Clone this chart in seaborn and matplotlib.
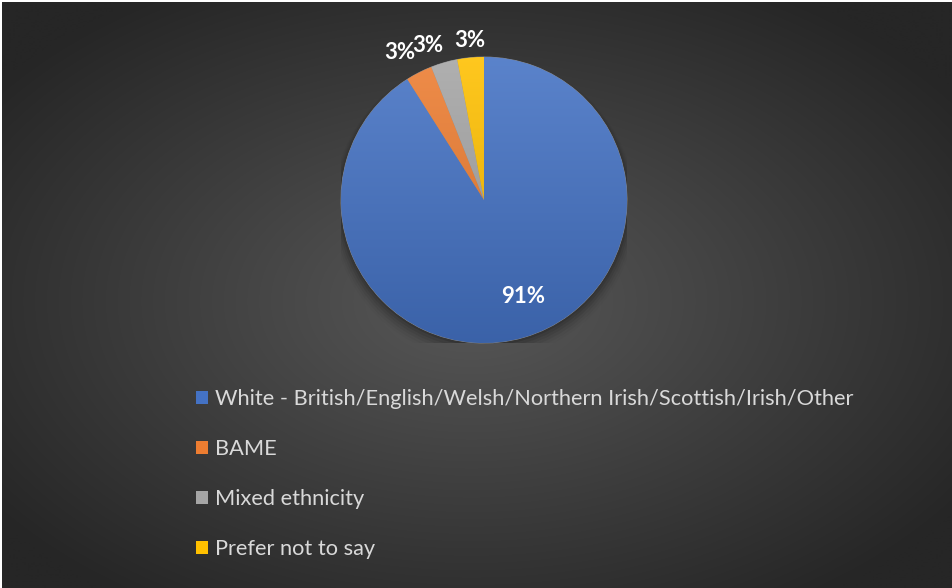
import numpy as np
import matplotlib
matplotlib.use("Agg")
import matplotlib.pyplot as plt
import matplotlib.colors as mcolors
import seaborn as sns

categories = [
    "White - British/English/Welsh/Northern Irish/Scottish/Irish/Other",
    "BAME",
    "Mixed ethnicity",
    "Prefer not to say",
]
values = [91, 3, 3, 3]
colors = ["#4472C4", "#ED7D31", "#A5A5A5", "#FFC000"]

sns.set_theme(style="dark")
plt.rcParams["font.family"] = ["Lato", "DejaVu Sans"]

W, H = 953, 588
fig = plt.figure(figsize=(W / 100, H / 100), dpi=100)
fig.patch.set_facecolor("white")

# background radial gradient
bg = fig.add_axes([2 / W, 0, 1 - 2 / W, 1 - 2 / H])
bg.set_axis_off()
yy, xx = np.mgrid[0:H, 0:W]
cx, cy = 470, 300
d = np.sqrt(((xx - cx) / (W * 0.62)) ** 2 + ((yy - cy) / (H * 0.62)) ** 2)
d = np.clip(d, 0, 1)
c0 = np.array(mcolors.to_rgb("#585858"))
c1 = np.array(mcolors.to_rgb("#262626"))
img = c0[None, None, :] * (1 - d[..., None]) + c1[None, None, :] * d[..., None]
bg.imshow(img, aspect="auto", extent=[0, 1, 0, 1], origin="upper")
bg.set_xlim(0, 1)
bg.set_ylim(0, 1)

# pie axes
pcx, pcy, R = 484, 200, 143
ax = fig.add_axes([(pcx - R) / W, (H - pcy - R) / H, 2 * R / W, 2 * R / H])
ax.set_facecolor("none")

# soft shadow
for i, a in enumerate(np.linspace(0.10, 0.02, 6)):
    sh = plt.Circle((0, -0.02 - i * 0.008), 1.0 + i * 0.012, color="black",
                    alpha=a, zorder=0, lw=0)
    ax.add_patch(sh)

wedges, texts, autotexts = ax.pie(
    values, colors=colors, startangle=90, counterclock=False,
    autopct=lambda p: f"{p:.0f}%", pctdistance=1.15,
    wedgeprops=dict(linewidth=0.6, edgecolor="#8a8a8a"),
    textprops=dict(color="white", fontsize=16, fontweight="bold"),
)

# vertical gradient shading on each wedge
grad = np.linspace(0, 1, 256)[:, None]
for w, col in zip(wedges, colors):
    base = np.array(mcolors.to_rgb(col))
    top = base + (1 - base) * 0.12
    bot = base * 0.86
    g = top[None, None, :] * (1 - grad[..., None]) + bot[None, None, :] * grad[..., None]
    g = np.repeat(g, 2, axis=1)
    im = ax.imshow(g, extent=[-1, 1, -1, 1], origin="upper", aspect="auto", zorder=1.1)
    im.set_clip_path(w)
    w.set_zorder(1)
ax.set_xlim(-1, 1)
ax.set_ylim(-1, 1)
ax.set_aspect("equal")

# place labels
offsets = [6.0, 2.6, 3.7, -0.4]
dists = [0.73, 1.19, 1.15, 1.12]
for w, t, off, r in zip(wedges, autotexts, offsets, dists):
    ang = np.deg2rad((w.theta1 + w.theta2) / 2 + off)
    t.set_position((r * np.cos(ang), r * np.sin(ang)))
    t.set_zorder(5)
    t.set_ha("center")
    t.set_va("center")

fs = 15.7
px = fs * 100 / 72
leg = fig.legend(
    wedges, categories, loc="upper left",
    bbox_to_anchor=(196 / W, 1 - 389 / H),
    frameon=False, fontsize=fs, labelcolor="#d9d9d9",
    handlelength=12 / px, handleheight=12 / px, handletextpad=7 / px,
    labelspacing=30.0 / px, borderpad=0, borderaxespad=0,
)
for h in leg.legend_handles:
    h.set_edgecolor("none")

fig.savefig("out.png", dpi=100, facecolor=fig.get_facecolor())
